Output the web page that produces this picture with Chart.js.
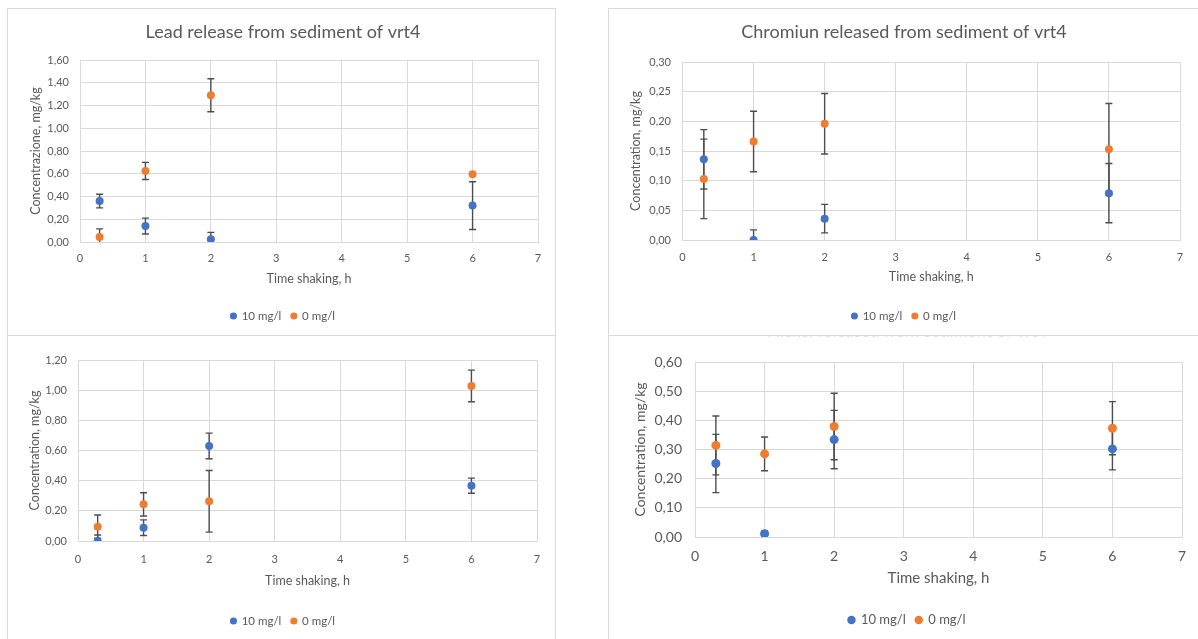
<!DOCTYPE html>
<html>
<head>
<meta charset="utf-8">
<script src="https://cdn.jsdelivr.net/npm/chart.js@4.4.1/dist/chart.umd.min.js"></script>
<style>
html,body{margin:0;padding:0;background:#fff;overflow:hidden;width:1198px;height:639px;}
.panel{position:absolute;border:1px solid #d9d9d9;box-sizing:border-box;}
canvas{position:absolute;}
</style>
</head>
<body>
<div class="panel" style="left:7px;top:8px;width:549px;height:328px"></div>
<div class="panel" style="left:7px;top:335px;width:549px;height:330px"></div>
<div class="panel" style="left:608px;top:8px;width:620px;height:328px"></div>
<div class="panel" style="left:608px;top:335px;width:620px;height:330px"></div>
<canvas id="cLead" width="548" height="327" style="left:7px;top:8px"></canvas>
<canvas id="cChrom" width="591" height="327" style="left:608px;top:8px"></canvas>
<canvas id="cBL" width="548" height="314" style="left:7px;top:336px"></canvas>
<canvas id="cNi" width="591" height="314" style="left:608px;top:336px"></canvas>
<script>
// ---------- data ----------
const times = [0.3, 1, 2, 6];
const xTicks = [0, 1, 2, 3, 4, 5, 6, 7];
const seriesNames = ['10 mg/l', '0 mg/l'];
const xTitle = 'Time shaking, h';

// Lead release (top-left)
const leadTitle = 'Lead release from sediment of vrt4';
const leadYTitle = 'Concentrazione, mg/kg';
const lead10 = [0.36, 0.14, 0.025, 0.32];
const lead10Err = [0.06, 0.07, 0.06, 0.21];
const lead0 = [0.045, 0.625, 1.29, 0.595];
const lead0Err = [0.07, 0.075, 0.145, 0];
const leadYTicks = [0, 0.2, 0.4, 0.6, 0.8, 1.0, 1.2, 1.4, 1.6];

// Chromium (top-right)
const chromTitle = 'Chromiun released from sediment of vrt4';
const chromYTitle = 'Concentration, mg/kg';
const chrom10 = [0.136, 0.0, 0.036, 0.079];
const chrom10Err = [0.05, 0.017, 0.024, 0.05];
const chrom0 = [0.103, 0.166, 0.196, 0.153];
const chrom0Err = [0.067, 0.051, 0.051, 0.077];
const chromYTicks = [0, 0.05, 0.10, 0.15, 0.20, 0.25, 0.30];

// Bottom-left (title not visible)
const blYTitle = 'Concentration, mg/kg';
const bl10 = [0.0, 0.088, 0.63, 0.367];
const bl10Err = [0.04, 0.052, 0.085, 0.05];
const bl0 = [0.095, 0.243, 0.263, 1.028];
const bl0Err = [0.077, 0.077, 0.204, 0.105];
const blYTicks = [0, 0.2, 0.4, 0.6, 0.8, 1.0, 1.2];

// Nickel (bottom-right)
const niTitle = 'Nickel released from sediment of vrt4';
const niYTitle = 'Concentration, mg/kg';
const ni10 = [0.252, 0.011, 0.334, 0.302];
const ni10Err = [0.1, 0.01, 0.1, 0.072];
const ni0 = [0.314, 0.285, 0.379, 0.373];
const ni0Err = [0.101, 0.058, 0.114, 0.091];
const niYTicks = [0, 0.1, 0.2, 0.3, 0.4, 0.5, 0.6];

// ---------- styling ----------
const BLUE = '#4472C4', ORANGE = '#ED7D31';
const TEXT = '#595959', GRID = '#d9d9d9';
Chart.defaults.font.family = 'Lato, "Open Sans", sans-serif';

const errorBarPlugin = {
  id: 'errorBars',
  beforeDatasetsDraw(chart, args, opts) {
    const {ctx, chartArea} = chart;
    const xs = chart.scales.x, ys = chart.scales.y;
    ctx.save();
    ctx.beginPath();
    ctx.rect(chartArea.left, chartArea.top - 2, chartArea.right - chartArea.left, chartArea.bottom - chartArea.top + 2);
    ctx.clip();
    ctx.strokeStyle = opts.color;
    ctx.lineWidth = opts.width;
    chart.data.datasets.forEach(ds => {
      (ds.errors || []).forEach((e, i) => {
        if (!e) return;
        const p = ds.data[i];
        const x = xs.getPixelForValue(p.x);
        const y1 = ys.getPixelForValue(p.y + e);
        const y2 = ys.getPixelForValue(p.y - e);
        ctx.beginPath();
        ctx.moveTo(x, y1); ctx.lineTo(x, y2);
        ctx.moveTo(x - opts.cap, y1); ctx.lineTo(x + opts.cap, y1);
        ctx.moveTo(x - opts.cap, y2); ctx.lineTo(x + opts.cap, y2);
        ctx.stroke();
      });
    });
    ctx.restore();
  }
};

function fmt(v) { return Number(v).toFixed(2).replace('.', ','); }

function makeChart(id, c) {
  const mk = (vals, errs, name, color) => ({
    label: name,
    data: times.map((t, i) => ({x: t, y: vals[i]})),
    errors: errs,
    backgroundColor: color,
    borderColor: color,
    borderWidth: 0,
    pointRadius: c.r,
    pointStyle: 'circle'
  });
  new Chart(document.getElementById(id), {
    type: 'scatter',
    data: {datasets: [mk(c.s1, c.e1, seriesNames[0], BLUE), mk(c.s2, c.e2, seriesNames[1], ORANGE)]},
    options: {
      responsive: false,
      animation: false,
      events: [],
      layout: {padding: c.pad},
      plugins: {
        title: {
          display: !!c.title, text: c.title || '', color: c.titleColor || TEXT,
          font: {size: c.titleSize, weight: 'normal'}, padding: c.titlePad
        },
        legend: {
          position: 'bottom',
          labels: {
            usePointStyle: true, pointStyle: 'circle', boxWidth: c.lbox, boxHeight: c.lbox,
            padding: 10, color: TEXT, font: {size: c.lsize}
          }
        },
        tooltip: {enabled: false},
        errorBars: {color: '#4d4d4d', width: 1.4, cap: 3.5}
      },
      scales: {
        x: {
          type: 'linear', min: 0, max: 7,
          afterBuildTicks: s => { s.ticks = xTicks.map(v => ({value: v})); },
          afterFit: s => { s.height = c.xh; },
          grid: {color: GRID, drawTicks: false},
          border: {color: GRID},
          ticks: {padding: c.xtp, color: TEXT, font: {size: c.tsize}},
          title: {display: true, text: xTitle, color: TEXT, font: {size: c.xtsize}, padding: {top: 0, bottom: c.xtitlePb}}
        },
        y: {
          type: 'linear', min: 0, max: c.yTicks[c.yTicks.length - 1],
          afterBuildTicks: s => { s.ticks = c.yTicks.map(v => ({value: v})); },
          afterFit: s => { s.width = c.yw; },
          grid: {color: GRID, drawTicks: false},
          border: {color: GRID},
          ticks: {padding: c.ytp, color: TEXT, font: {size: c.tsize}, callback: v => fmt(v)},
          title: {display: true, text: c.ytitle, color: TEXT, font: {size: c.ytsize}, padding: {top: c.ytitlePt, bottom: 0}}
        }
      }
    },
    plugins: [errorBarPlugin]
  });
}

makeChart('cLead', {
  s1: lead10, e1: lead10Err, s2: lead0, e2: lead0Err, yTicks: leadYTicks,
  title: leadTitle, titleSize: 18, titlePad: {top: 13.2, bottom: 17.2},
  ytitle: leadYTitle, r: 4,
  pad: {left: 21, right: 17, top: 0, bottom: 3.25},
  yw: 52, ytp: 11, ytsize: 12.5, ytitlePt: 0,
  xh: 58.25, xtp: 10, xtsize: 12.5, xtitlePb: 13.75,
  tsize: 11, lsize: 11.5, lbox: 5
});

makeChart('cChrom', {
  s1: chrom10, e1: chrom10Err, s2: chrom0, e2: chrom0Err, yTicks: chromYTicks,
  title: chromTitle, titleSize: 18, titlePad: {top: 13.2, bottom: 19.2},
  ytitle: chromYTitle, r: 4,
  pad: {left: 20, right: 19, top: 0, bottom: 3.25},
  yw: 54.5, ytp: 11.5, ytsize: 12.5, ytitlePt: 0.5,
  xh: 60.25, xtp: 10.4, xtsize: 12.5, xtitlePb: 15.75,
  tsize: 11, lsize: 11.5, lbox: 5
});

makeChart('cBL', {
  s1: bl10, e1: bl10Err, s2: bl0, e2: bl0Err, yTicks: blYTicks,
  title: null, titleSize: 16, titlePad: 0,
  ytitle: blYTitle, r: 4,
  pad: {left: 22, right: 18, top: 24, bottom: 13.25},
  yw: 49, ytp: 11, ytsize: 12.5, ytitlePt: -2,
  xh: 64.25, xtp: 11.4, xtsize: 12.5, xtitlePb: 16.75,
  tsize: 11, lsize: 11.5, lbox: 5
});

makeChart('cNi', {
  s1: ni10, e1: ni10Err, s2: ni0, e2: ni0Err, yTicks: niYTicks,
  title: niTitle, titleSize: 17, titleColor: '#e2e2e2', titlePad: {top: -15, bottom: 20.6},
  ytitle: niYTitle, r: 4.5,
  pad: {left: 24, right: 17, top: 0, bottom: 13.5},
  yw: 63, ytp: 13, ytsize: 14, ytitlePt: 0,
  xh: 66.5, xtp: 10.6, xtsize: 15, xtitlePb: 16.5,
  tsize: 14, lsize: 13, lbox: 6
});
</script>
</body>
</html>
